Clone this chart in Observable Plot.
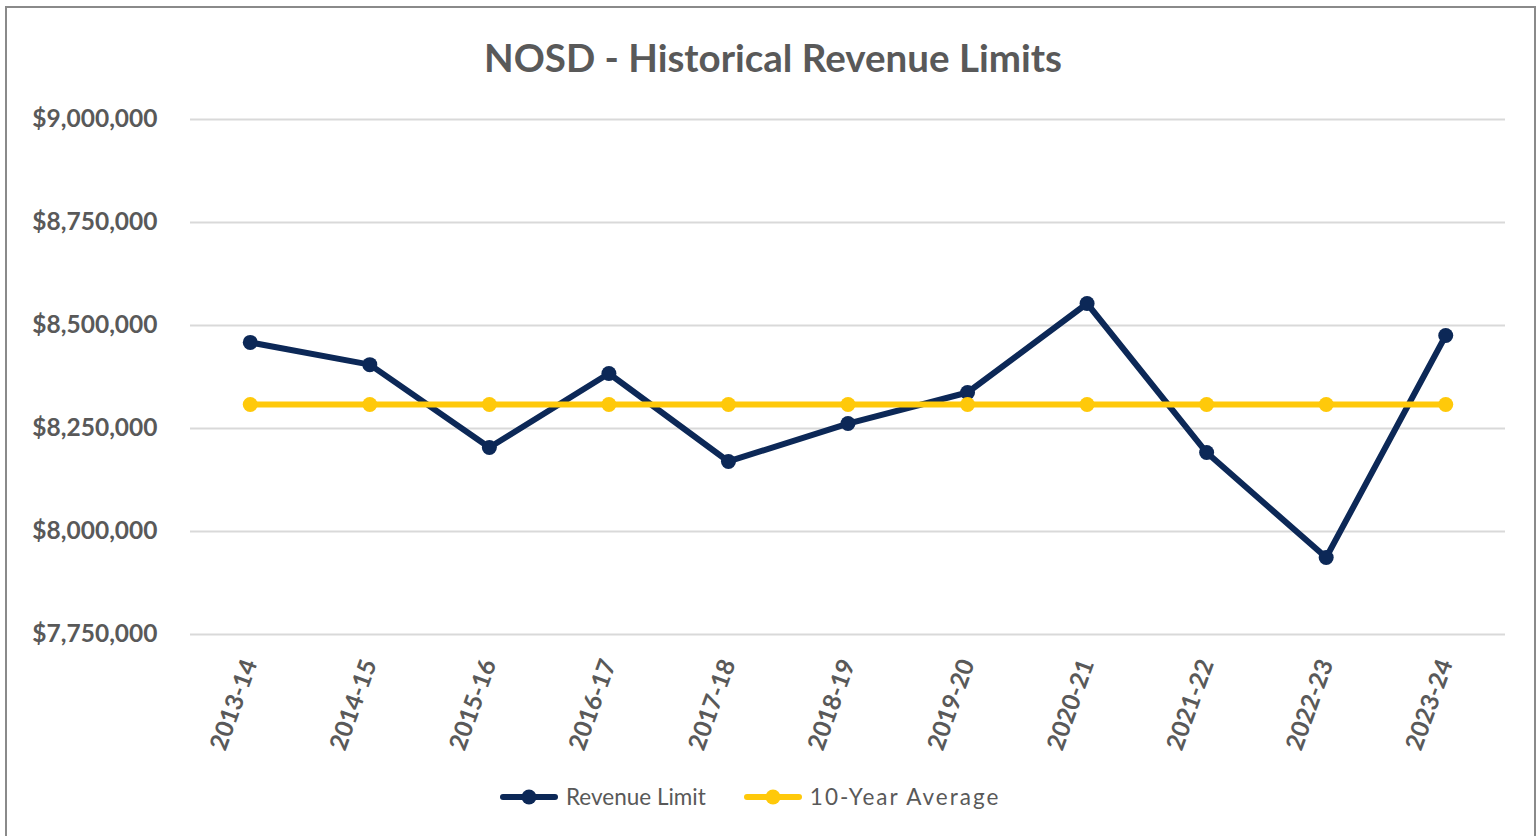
<!DOCTYPE html>
<html>
<head>
<meta charset="utf-8">
<script src="https://cdn.jsdelivr.net/npm/d3@7"></script>
<script src="https://cdn.jsdelivr.net/npm/@observablehq/plot@0.6"></script>
<style>
  html, body { margin: 0; padding: 0; background: #fff; }
  body { width: 1538px; height: 836px; position: relative; overflow: hidden; font-family: Lato, "Open Sans", sans-serif; }
  #frame { position: absolute; left: 5px; top: 6px; width: 1531px; height: 900px; border: 2px solid #8a8a8a; box-sizing: border-box; }
  #title { position: absolute; left: 0; top: 34px; width: 1546px; text-align: center; font-size: 38.5px; font-weight: 700; color: #595959; line-height: 46px; }
  #chart { position: absolute; left: 0; top: 90px; }
  #legend { position: absolute; left: 500px; top: 783px; display: flex; align-items: center; gap: 38px; font-size: 22.5px; color: #595959; }
  .item { display: flex; align-items: center; gap: 8px; }
  .item.wide span { letter-spacing: 2px; }
</style>
</head>
<body>
<div id="frame"></div>
<div id="title">NOSD - Historical Revenue Limits</div>
<div id="chart"></div>
<div id="legend"></div>
<script>
const years = ["2013-14","2014-15","2015-16","2016-17","2017-18","2018-19","2019-20","2020-21","2021-22","2022-23","2023-24"];
const revenueLimit = [8459000, 8405000, 8204000, 8383500, 8170000, 8262000, 8337400, 8553400, 8191700, 7936900, 8475700];
const tenYearAverage = [8308250, 8308250, 8308250, 8308250, 8308250, 8308250, 8308250, 8308250, 8308250, 8308250, 8308250];
const yTicks = [7750000, 8000000, 8250000, 8500000, 8750000, 9000000];
const seriesNames = ["Revenue Limit", "10-Year Average"];
const seriesColors = ["#0c2857", "#ffc90a"];

const rev = years.map((y, i) => ({year: y, value: revenueLimit[i]}));
const avg = years.map((y, i) => ({year: y, value: tenYearAverage[i]}));
const fmt = d => "$" + d3.format(",")(d);

const chart = Plot.plot({
  width: 1538,
  height: 680,
  marginLeft: 190,
  marginRight: 33,
  marginTop: 29,
  marginBottom: 136,
  style: {fontFamily: "Lato, 'Open Sans', sans-serif", background: "transparent", overflow: "visible"},
  x: {type: "point", domain: years, padding: 0.5, round: false},
  y: {domain: [7750000, 9000000]},
  marks: [
    Plot.ruleY(yTicks, {stroke: "#d9d9d9", strokeWidth: 2}),
    Plot.axisY(yTicks, {tickSize: 0, tickPadding: 33, tickFormat: fmt, fontSize: 24.5, fontWeight: 700, fill: "#595959", label: null}),
    Plot.axisX({tickSize: 0, tickPadding: 26, tickRotate: -70, fontSize: 24.5, fontWeight: 700, fill: "#595959", label: null}),
    Plot.line(rev, {x: "year", y: "value", stroke: seriesColors[0], strokeWidth: 6}),
    Plot.dot(rev, {x: "year", y: "value", r: 7.5, fill: seriesColors[0]}),
    Plot.line(avg, {x: "year", y: "value", stroke: seriesColors[1], strokeWidth: 6}),
    Plot.dot(avg, {x: "year", y: "value", r: 7.5, fill: seriesColors[1]})
  ]
});
document.getElementById("chart").appendChild(chart);

const legend = document.getElementById("legend");
seriesNames.forEach((name, i) => {
  const item = document.createElement("div");
  item.className = "item" + (i === 1 ? " wide" : "");
  item.innerHTML = `<svg width="58" height="16"><line x1="3" y1="8" x2="55" y2="8" stroke="${seriesColors[i]}" stroke-width="6" stroke-linecap="round"/><circle cx="29" cy="8" r="7.5" fill="${seriesColors[i]}"/></svg><span>${name}</span>`;
  legend.appendChild(item);
});
</script>
</body>
</html>
